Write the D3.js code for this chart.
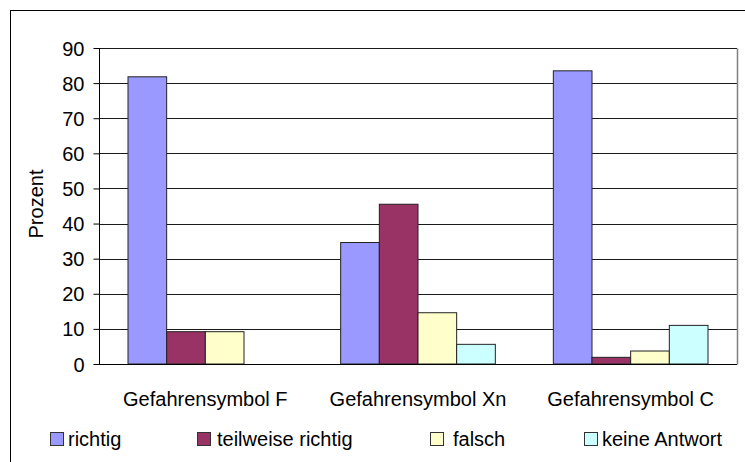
<!DOCTYPE html>
<html>
<head>
<meta charset="utf-8">
<script src="https://cdn.jsdelivr.net/npm/d3@7"></script>
<style>
  html, body { margin: 0; padding: 0; background: #fff; }
  svg { display: block; }
  text { font-family: "Liberation Sans", Arial, sans-serif; fill: #000; }
</style>
</head>
<body>
<svg id="chart" width="745" height="462"></svg>
<script>
// ---- data ----
const categories = ["Gefahrensymbol F", "Gefahrensymbol Xn", "Gefahrensymbol C"];
const seriesNames = ["richtig", "teilweise richtig", "falsch", "keine Antwort"];
const richtig = [81.8, 34.6, 83.5];
const teilweiseRichtig = [9.2, 45.5, 1.9];
const falsch = [9.2, 14.6, 3.7];
const keineAntwort = [0, 5.6, 11.0];
const yTicks = [0, 10, 20, 30, 40, 50, 60, 70, 80, 90];
const yLabel = "Prozent";

// ---- styles / layout ----
const colors = ["#9999FF", "#993366", "#FFFFCC", "#CCFFFF"];
const seriesValues = [richtig, teilweiseRichtig, falsch, keineAntwort];
const plot = { left: 99, right: 737, top: 48, bottom: 364 };

const svg = d3.select("#chart");

// outer chart border (extends beyond the visible window)
svg.append("rect")
  .attr("x", 10.5).attr("y", 10.5)
  .attr("width", 800).attr("height", 500)
  .attr("fill", "none").attr("stroke", "#000").attr("stroke-width", 1);

const x0 = d3.scaleBand().domain(categories).range([plot.left, plot.right]).paddingInner(0).paddingOuter(0);
const x1 = d3.scaleBand().domain(seriesNames).range([0, x0.bandwidth()]).paddingInner(0).paddingOuter(0.75);
const y = d3.scaleLinear().domain([0, 90]).range([plot.bottom, plot.top]);

// gridlines
svg.append("g").selectAll("line").data(yTicks.filter(d => d > 0)).join("line")
  .attr("x1", plot.left).attr("x2", plot.right)
  .attr("y1", d => Math.round(y(d)) + 0.5).attr("y2", d => Math.round(y(d)) + 0.5)
  .attr("stroke", "#1a1a1a").attr("stroke-width", 1);

// plot area right border
svg.append("line")
  .attr("x1", plot.right + 0.5).attr("x2", plot.right + 0.5)
  .attr("y1", Math.round(y(90)) + 0.5).attr("y2", plot.bottom + 0.5)
  .attr("stroke", "#808080").attr("stroke-width", 1.5);

// bars
const rows = [];
categories.forEach((c, i) => {
  seriesNames.forEach((s, j) => {
    rows.push({ cat: c, series: s, value: seriesValues[j][i], color: colors[j] });
  });
});
svg.append("g").selectAll("rect").data(rows.filter(d => d.value > 0)).join("rect")
  .attr("x", d => x0(d.cat) + x1(d.series))
  .attr("y", d => y(d.value))
  .attr("width", x1.bandwidth())
  .attr("height", d => y(0) - y(d.value))
  .attr("fill", d => d.color)
  .attr("stroke", "#222").attr("stroke-width", 1);

// y axis
const yAxis = d3.axisLeft(y).tickValues(yTicks).tickSize(6).tickPadding(9).tickFormat(d3.format("d"));
const gy = svg.append("g").attr("transform", `translate(${plot.left + 0.5},0)`).call(yAxis);
gy.select(".domain").attr("stroke", "#000").attr("d", `M0,${plot.top}V${plot.bottom + 0.5}`);
gy.selectAll(".tick line").attr("stroke", "#000");
gy.selectAll(".tick text").attr("font-size", 20).attr("dy", "0.35em")
  .style("font-family", '"Liberation Sans", Arial, sans-serif').attr("fill", "#000");

// x axis line
svg.append("line")
  .attr("x1", plot.left).attr("x2", plot.right)
  .attr("y1", plot.bottom + 0.5).attr("y2", plot.bottom + 0.5)
  .attr("stroke", "#000").attr("stroke-width", 1);

// category labels
svg.append("g").selectAll("text").data(categories).join("text")
  .attr("x", d => x0(d) + x0.bandwidth() / 2)
  .attr("y", 406)
  .attr("text-anchor", "middle")
  .attr("font-size", 20)
  .text(d => d);

// y label
svg.append("text")
  .attr("transform", `translate(43,${(plot.top + plot.bottom) / 2 - 2}) rotate(-90)`)
  .attr("text-anchor", "middle")
  .attr("font-size", 20)
  .text(yLabel);

// legend
const legendSquareX = [50, 197, 430, 584];
const legendTextX = [68, 217, 453, 602];
const lg = svg.append("g");
seriesNames.forEach((s, j) => {
  lg.append("rect")
    .attr("x", legendSquareX[j] + 0.5).attr("y", 432.5)
    .attr("width", 13).attr("height", 13)
    .attr("fill", colors[j]).attr("stroke", "#333").attr("stroke-width", 1);
  lg.append("text")
    .attr("x", legendTextX[j]).attr("y", 446)
    .attr("font-size", 20)
    .text(s);
});
</script>
</body>
</html>
